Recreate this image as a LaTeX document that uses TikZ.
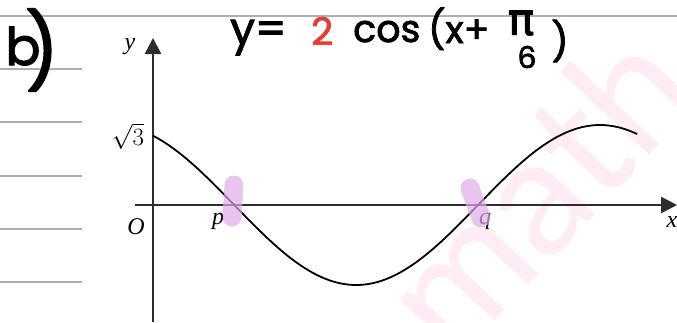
\documentclass[tikz,border=0pt]{standalone}
\usepackage{fontspec}
\usetikzlibrary{arrows.meta}
\newfontfamily\hand{Poppins}[FakeBold=2]
\newfontfamily\lab{Liberation Serif}
\newfontfamily\wm{Lato}
\newfontfamily\gr{DejaVu Sans}[FakeBold=2]
\definecolor{rulegray}{RGB}{175,175,175}
\definecolor{axisgray}{RGB}{45,45,45}
\definecolor{hilite}{RGB}{222,171,231}
\definecolor{wmpink}{RGB}{255,236,244}
\definecolor{penred}{RGB}{230,60,50}
\begin{document}
\begin{tikzpicture}[x=1pt,y=-1pt,
  ruleline/.style={rulegray,line width=1.4pt},
  axisline/.style={axisgray,line width=2.6pt,-{Triangle[length=16pt,width=16pt]}},
  curveline/.style={black,line width=1.8pt},
  hl/.style={hilite,opacity=0.7,line width=19pt,line cap=round},
  lbl/.style={inner sep=0pt,font=\lab\itshape\fontsize{24}{24}\selectfont},
  hw/.style={inner sep=0pt,font=\hand\fontsize{38}{38}\selectfont}]
\useasboundingbox (0,0) rectangle (677,322);
% watermark
\begin{scope}
\clip (0,0) rectangle (677,322);
\node[text=wmpink,rotate=47,inner sep=0pt,font=\wm\fontsize{165}{165}\selectfont] (wmark) at (535,190) {math};
\end{scope}
% ruled lines
\coordinate (r0a) at (0,16); \coordinate (r0b) at (677,16);
\draw[ruleline] (r0a) -- (r0b);
\foreach \yy [count=\i] in {69,122,176,229,282}{
  \coordinate (ra\i) at (0,\yy); \coordinate (rb\i) at (82,\yy);
  \draw[ruleline] (ra\i) -- (rb\i);
}
% handwritten header
\node[hw,font=\hand\fontsize{52}{52}\selectfont] (partb) at (23,46) {b};
\node[hw,font=\hand\fontsize{74}{74}\selectfont] (partp) at (42,50) {)};
\node[hw,anchor=base west,font=\hand\fontsize{44}{44}\selectfont] (eqy) at (230,44) {y=};
\node[hw,anchor=base west,text=penred,font=\hand\fontsize{38}{38}\selectfont] (eqtwo) at (311,45) {2};
\node[hw,anchor=base west] (eqcos) at (353,42) {cos};
\node[hw,anchor=base west] (eqx) at (428,43) {(x+};
\node[inner sep=0pt,font=\gr\fontsize{44}{44}\selectfont] (eqpi) at (521,23) {π};
\node[hw,font=\hand\fontsize{30}{30}\selectfont] (eqsix) at (527,57) {6};
\node[hw] (eqclose) at (560,41) {)};
% axes
\coordinate (yb) at (153,322); \coordinate (yt) at (153,38);
\coordinate (xl) at (135,205); \coordinate (xr) at (677,205);
\draw[axisline] (yb) -- (yt);
\draw[axisline] (xl) -- (xr);
% curve
\draw[curveline] plot[domain=0:6.24,samples=120] ({153+77.6*\x},{205-80*cos(deg(\x)+30)});
% labels
\node[lbl] (ylab) at (130,47) {y};
\node[lbl,font=\fontsize{24}{24}\selectfont] (root3) at (128,136) {$\sqrt{3}$};
\node[lbl] (origin) at (136,227) {O};
\node[lbl] (plab) at (218,221) {p};
\node[lbl] (qlab) at (485,221) {q};
\node[lbl] (xlab) at (672,222) {x};
% highlights
\coordinate (pa) at (234,185); \coordinate (pb) at (232,217);
\coordinate (qa) at (470,188); \coordinate (qb) at (481,218);
\draw[hl] (pa) -- (pb);
\draw[hl] (qa) -- (qb);
\end{tikzpicture}
\end{document}
